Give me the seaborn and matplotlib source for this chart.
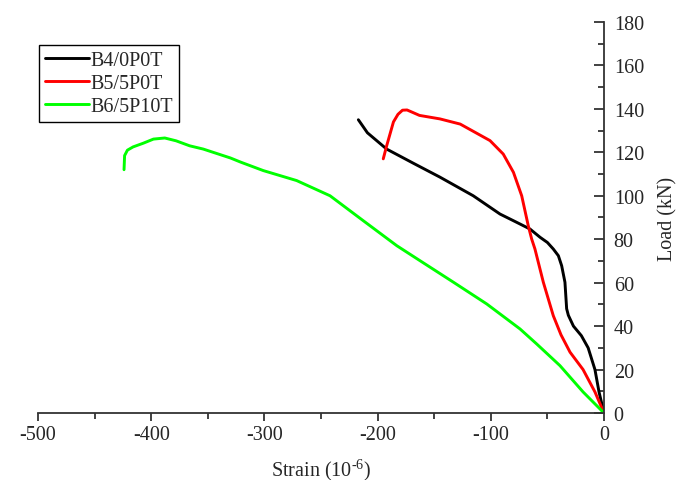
import numpy as np
import pandas as pd
import matplotlib
matplotlib.use("Agg")
import matplotlib.pyplot as plt
from matplotlib.ticker import MultipleLocator
import seaborn as sns

# load-strain curves (strain in 1e-6, load in kN)
b4_strain = [0, -4.4, -8, -11, -14, -20, -27, -31.5, -33, -34.5, -37.4, -40.3,
             -44.8, -50, -56.5, -65.4, -78, -91.9, -115.5, -145, -168.5, -192, -209, -217]
b4_load = [0, 9.7, 20, 25, 30, 35.6, 40, 45, 48, 60.2, 67.8, 72.4,
           75.5, 78.5, 80.9, 84.7, 88, 91.6, 100, 108.6, 115, 121.5, 129, 135]

b5_strain = [0, -8, -18.5, -30, -38, -44.8, -53.6, -61, -63.9, -66.9, -72.7, -80, -89,
             -100.7, -127, -145, -163, -170, -174, -178, -182, -186, -192, -195]
b5_load = [0, 9.7, 20, 28, 36, 44.8, 60.2, 75.5, 80.1, 86.2, 100, 110.8, 119.2,
           125.4, 133, 135.4, 137, 138.6, 139.5, 139.4, 137.5, 134, 123, 117]

b6_strain = [0, -18.5, -38.9, -59.5, -74.2, -103.6, -133, -162.5, -183, -212.6, -242, -271.5,
             -301, -321, -330, -354, -366, -378, -388, -398, -407, -416, -421, -423.5, -424]
b6_load = [0, 9.7, 21.8, 31.8, 38.7, 50.2, 60.2, 70.1, 77, 88.5, 100, 107,
           111.6, 115.5, 117.4, 121.5, 123, 125.3, 126.6, 126.1, 124.2, 122.5, 121, 118.5, 112]

names = ["B4/0P0T", "B5/5P0T", "B6/5P10T"]
colors = ["#000000", "#ff0000", "#00ff00"]

frames = []
for name, s, l in zip(names, [b4_strain, b5_strain, b6_strain], [b4_load, b5_load, b6_load]):
    frames.append(pd.DataFrame({"strain": s, "load": l, "beam": name}))
df = pd.concat(frames, ignore_index=True)

sns.set_style("ticks")
plt.rcParams["font.family"] = ["Liberation Serif", "DejaVu Serif"]
plt.rcParams["mathtext.fontset"] = "custom"
plt.rcParams["mathtext.rm"] = "Liberation Serif"
plt.rcParams["axes.unicode_minus"] = False

fig = plt.figure(figsize=(6.89, 4.81), dpi=100)
ax = fig.add_axes([38 / 689, 1 - 414 / 481, (604 - 38) / 689, (414 - 23) / 481])

sns.lineplot(data=df, x="strain", y="load", hue="beam", hue_order=names,
             palette=dict(zip(names, colors)), sort=False, estimator=None,
             linewidth=2.1, ax=ax)
for line in ax.lines:
    line.set_solid_joinstyle("round")

ax.set_xlim(-500, 0)
ax.set_ylim(0, 180)
ax.xaxis.set_major_locator(MultipleLocator(100))
ax.xaxis.set_minor_locator(MultipleLocator(50))
ax.yaxis.set_major_locator(MultipleLocator(20))
ax.yaxis.set_minor_locator(MultipleLocator(10))

for side in ["top", "left"]:
    ax.spines[side].set_visible(False)
for side in ["bottom", "right"]:
    ax.spines[side].set_linewidth(1.3)
    ax.spines[side].set_color("#333333")

ax.yaxis.tick_right()
ax.yaxis.set_label_position("right")
ax.tick_params(axis="x", which="major", direction="out", length=6, width=1.3,
               color="#333333", labelsize=14.5, pad=3)
ax.tick_params(axis="x", which="minor", direction="out", length=4, width=1.3, color="#333333")
ax.tick_params(axis="y", which="major", direction="in", length=7, width=1.3,
               color="#333333", labelsize=14.5, pad=7)
ax.tick_params(axis="y", which="minor", direction="in", length=4, width=1.3, color="#333333")

# hyphen (U+2010) instead of a math minus in the exponent, as in the reference
ax.set_xlabel("Strain (10$^{\u20106}$)", fontsize=14.5, labelpad=8)
ax.set_ylabel("Load (kN)", fontsize=14.5, labelpad=10)

handles, labels = ax.get_legend_handles_labels()
leg = ax.legend(handles, labels, loc="upper left", bbox_to_anchor=(39 / 689, 1 - 46 / 481),
                bbox_transform=fig.transFigure, fontsize=14.5, frameon=True, fancybox=False,
                edgecolor="black", framealpha=1, handlelength=2.2, handletextpad=0.05,
                borderpad=0.3, labelspacing=0.2, borderaxespad=0)
leg.get_frame().set_linewidth(1.0)

fig.savefig("out.png", dpi=100)
